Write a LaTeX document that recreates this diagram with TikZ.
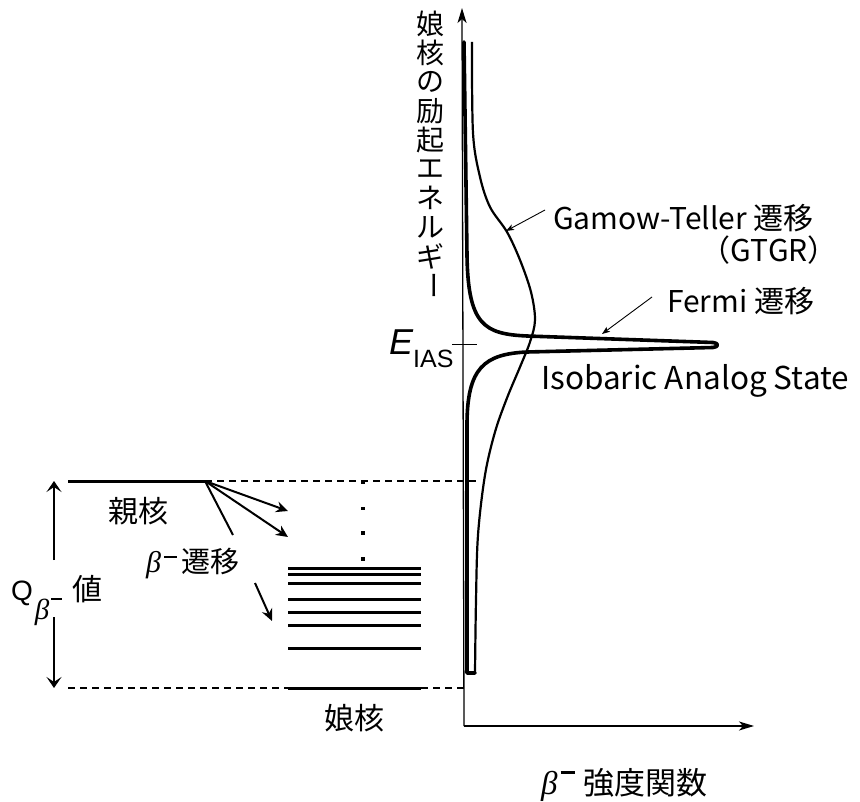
\documentclass[tikz,border=0pt]{standalone}
\usepackage{fontspec}
\usetikzlibrary{arrows.meta}
\newfontfamily\jp{Noto Sans CJK JP}
\newfontfamily\ar{Liberation Sans}
\newfontfamily\ser{Liberation Serif}
\newcommand\bet[1]{{\ser\itshape\fontsize{#1}{#1}\selectfont β}}
\begin{document}
\begin{tikzpicture}[x=1pt,y=-1pt,
  jtext/.style={inner sep=0pt,font=\jp\fontsize{30}{32}\selectfont},
  vtext/.style={inner sep=0pt,font=\jp\fontsize{28}{30}\selectfont},
  ltext/.style={inner sep=0pt,font=\jp\fontsize{30}{32}\selectfont},
  level/.style={line width=3pt},
  dashline/.style={line width=1.2pt,dash pattern=on 7pt off 5pt},
  trans/.style={line width=2pt,-{Stealth[length=12pt,width=11pt,inset=4pt]}},
  axisline/.style={line width=1.3pt},
  thinarrow/.style={line width=0.9pt,-{Stealth[length=8pt,width=6pt,inset=2pt]}}
]
\useasboundingbox (0,0) rectangle (860,802);

% axes
\coordinate (O) at (464,726);
\coordinate (ytip) at (462,8);
\coordinate (xtip) at (754,726);
\draw[axisline,-{Stealth[length=15pt,width=9pt,inset=4pt]}] (O) -- (ytip);
\draw[axisline,-{Stealth[length=15pt,width=9pt,inset=4pt]}] (O) -- (xtip);

% E_IAS tick
\coordinate (t1) at (452,345);
\coordinate (t2) at (477,345);
\draw[line width=1pt] (t1) -- (t2);
\node[inner sep=0pt,anchor=base west] (eias) at (389,355)
  {\ar\fontsize{36}{36}\selectfont\itshape E\upshape\fontsize{25}{25}\selectfont\raisebox{-13pt}{IAS}};

% Fermi curve (thick)
\draw[line width=3.6pt,line join=round,line cap=round]
  (464,42) -- (467,255) .. controls (468,325) and (484,334) .. (527,336)
  -- (713,342.5) .. controls (719,343) and (719,347) .. (713,347.5)
  -- (527,352) .. controls (484,354) and (467,368) .. (467,425)
  -- (467,673) -- (475,673);

% Gamow-Teller curve (thin)
\draw[line width=2.2pt,line join=round]
  plot[smooth,tension=0.55] coordinates {(472,42) (473,133) (480,177) (490,207) (507,232) (520,260) (531,292) (535,320) (530,342) (520,367) (507,398) (495,432) (485,475) (478,535) (476,600) (475,673)};

% label arrows
\coordinate (gta) at (545,210);
\coordinate (gtb) at (506,231);
\draw[thinarrow] (gta) -- (gtb);
\coordinate (fa) at (652,297);
\coordinate (fb) at (602,334);
\draw[thinarrow] (fa) -- (fb);

\node[ltext,anchor=base west] (gt) at (553,230) {Gamow-Teller 遷移};
\node[ltext,anchor=base east] (gtgr) at (838,262) {（GTGR）};
\node[ltext,anchor=base west] (fermi) at (667,313) {Fermi 遷移};
\node[ltext,anchor=base west,font=\jp\fontsize{31.5}{32}\selectfont] (ias) at (541,390) {Isobaric Analog State};

% vertical axis label
\foreach \c [count=\i] in {娘,核,の,励,起,エ,ネ,ル,ギ}{
  \node[vtext] (v\i) at (430,{24+29*(\i-1)}) {\c};
}
\node[vtext,rotate=-90] (v10) at (430,286) {ー};

% parent level
\coordinate (p0) at (68,481);
\coordinate (p1) at (205,481);
\coordinate (p2) at (480,481);
\draw[level] (p0) -- (p1);
\draw[dashline] (p1) -- (p2);

% daughter ground
\coordinate (d0) at (68,688);
\coordinate (d1) at (288,688);
\coordinate (d2) at (421,688);
\coordinate (d3) at (466,688);
\draw[dashline] (d0) -- (d1);
\draw[level] (d1) -- (d2);
\draw[dashline] (d2) -- (d3);

% excited levels
\foreach \y [count=\i] in {568,574.5,583.5,599.5,612,625,648}{
  \coordinate (la\i) at (288,\y);
  \coordinate (lb\i) at (421,\y);
  \draw[level] (la\i) -- (lb\i);
}
% dots
\foreach \y [count=\i] in {482,508.5,533,559}{
  \node[fill,inner sep=0pt,minimum size=3.5pt] (dot\i) at (363,\y) {};
}

% transitions
\coordinate (a1) at (288,511);
\coordinate (a2) at (288,537);
\coordinate (a3) at (233,535);
\draw[trans] (p1) -- (a1);
\draw[trans] (p1) -- (a2);
\draw[line width=2pt] (p1) -- (a3);
\coordinate (b0) at (255,583);
\coordinate (b1) at (272,621);
\draw[trans] (b0) -- (b1);

% Q arrow
\coordinate (q0) at (54,560);
\coordinate (q1) at (54,481);
\coordinate (q2) at (54,617);
\coordinate (q3) at (54,688);
\draw[line width=2pt,-{Stealth[length=11pt,width=15pt,inset=5pt]}] (q0) -- (q1);
\draw[line width=2pt,-{Stealth[length=11pt,width=15pt,inset=5pt]}] (q2) -- (q3);

% left labels
\node[jtext] (oya) at (138,511) {親核};
\node[inner sep=0pt,anchor=base west] (btr) at (146,572)
  {\bet{30}\hspace{3pt}\rule[14pt]{13pt}{2.5pt}\hspace{4pt}\jp\fontsize{29}{30}\selectfont 遷移};
\node[inner sep=0pt,anchor=base west] (qv) at (11,600)
  {\ar\fontsize{28}{28}\selectfont Q\hspace{2pt}\raisebox{-19pt}{\bet{29}}\hspace{2pt}\rule[0pt]{11pt}{2.5pt}\hspace{10pt}\jp\fontsize{30}{30}\selectfont 値};
\node[jtext] (musume) at (354,718) {娘核};
\node[inner sep=0pt,anchor=base west] (bstr) at (541,794)
  {\bet{33}\hspace{3pt}\rule[20pt]{14pt}{3pt}\hspace{9pt}\jp\fontsize{31}{32}\selectfont 強度関数};
\end{tikzpicture}
\end{document}
